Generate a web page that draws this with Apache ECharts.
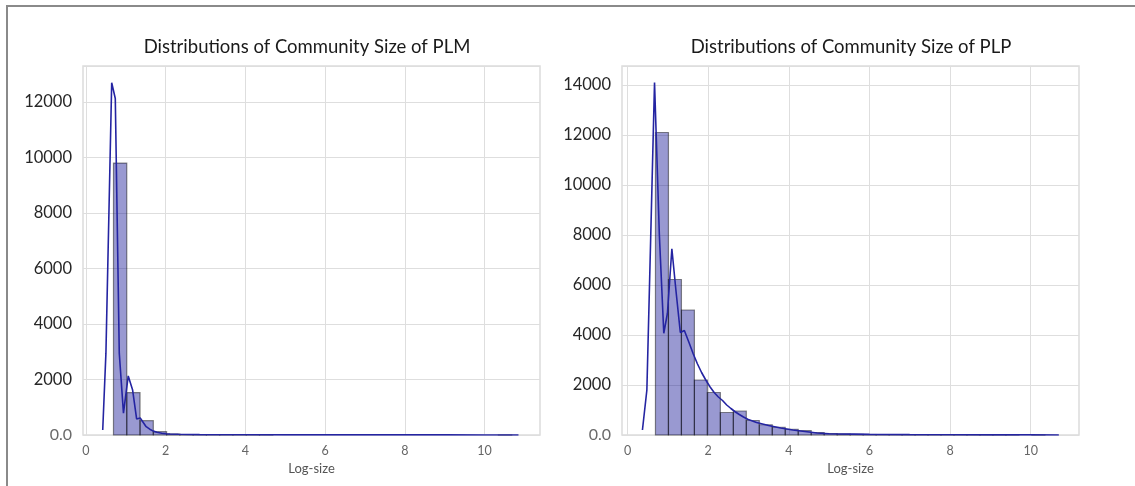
<!DOCTYPE html>
<html><head><meta charset="utf-8">
<script src="https://cdn.jsdelivr.net/npm/echarts@6/dist/echarts.min.js"></script>
<style>html,body{margin:0;padding:0;background:#fff}#c{width:1135px;height:486px}</style>
</head><body><div id="c"></div>
<script>
// ---- data ----
const xTickValues = [0, 2, 4, 6, 8, 10];
const titles = ['Distributions of Community Size of PLM', 'Distributions of Community Size of PLP'];
const xAxisName = 'Log-size';

const plmBinStart = 0.69;
const plmBinWidth = 0.333;
const plmCounts = [9800, 1530, 515, 120, 35, 12, 6, 3, 2, 1, 1, 1, 0, 0, 0, 0, 0, 0, 0, 0, 0, 0, 0, 0, 0, 0, 0, 0, 0, 1];
const plmKdeX = [0.42, 0.5, 0.645, 0.735, 0.835, 0.94, 1.06, 1.17, 1.27, 1.36, 1.51, 1.6, 1.69, 1.78, 1.9, 2.0, 2.11, 2.32, 2.53, 2.85, 3.3, 4, 5, 6, 7, 8, 9, 10, 10.85];
const plmKdeY = [180, 2950, 12700, 12130, 2950, 790, 2130, 1620, 580, 610, 300, 210, 140, 100, 65, 45, 35, 25, 18, 13, 10, 7, 6, 6, 5, 4, 3, 2, 1];

const plpBinStart = 0.693;
const plpBinWidth = 0.322;
const plpCounts = [12100, 6220, 5000, 2200, 1700, 900, 960, 580, 410, 310, 230, 175, 100, 60, 40, 25, 18, 12, 8, 6, 4, 3, 2, 2, 1, 1, 1, 1, 0, 1];
const plpKdeX = [0.37, 0.48, 0.575, 0.67, 0.79, 0.9, 0.99, 1.1, 1.2, 1.31, 1.41, 1.525, 1.629, 1.733, 1.837, 1.941, 2.045, 2.149, 2.253, 2.357, 2.461, 2.565, 2.669, 2.773, 2.877, 2.981, 3.2, 3.5, 3.8, 4.1, 4.4, 4.7, 5.0, 5.3, 5.6, 6, 7, 8, 9, 10, 10.7];
const plpKdeY = [200, 1800, 7900, 14100, 8000, 4070, 4870, 7450, 5800, 4100, 4180, 3700, 3250, 2850, 2500, 2200, 1930, 1700, 1520, 1380, 1200, 1060, 930, 820, 720, 630, 500, 380, 280, 200, 140, 80, 50, 40, 35, 25, 15, 10, 7, 5, 3];

// ---- chart ----
const FONT = 'Lato';
const chart = echarts.init(document.getElementById('c'));

function histSeries(start, width, counts, idx) {
  const data = counts.map((c, i) => [start + i * width, start + (i + 1) * width, c]);
  return {
    type: 'custom', xAxisIndex: idx, yAxisIndex: idx, data: data, z: 2,
    encode: { x: [0, 1], y: 2 },
    renderItem: function (params, api) {
      const c = api.value(2);
      if (!c) return null;
      const p0 = api.coord([api.value(0), c]);
      const p1 = api.coord([api.value(1), 0]);
      return {
        type: 'rect',
        shape: { x: p0[0], y: p0[1], width: p1[0] - p0[0], height: p1[1] - p0[1] },
        style: { fill: 'rgba(0,0,139,0.4)', stroke: 'rgba(0,0,0,0.45)', lineWidth: 1.2 }
      };
    }
  };
}
function kdeSeries(xs, ys, idx) {
  return {
    type: 'line', xAxisIndex: idx, yAxisIndex: idx, z: 3,
    data: xs.map((x, i) => [x, ys[i]]),
    showSymbol: false, symbol: 'none', smooth: false,
    lineStyle: { color: '#2424a2', width: 1.6 }
  };
}
function xAx(gi, min, max) {
  return {
    type: 'value', gridIndex: gi, min: min, max: max,
    name: xAxisName, nameLocation: 'middle', nameGap: 27,
    nameTextStyle: { fontFamily: FONT, fontSize: 13, color: '#555' },
    axisLine: { show: false },
    axisTick: { show: false, customValues: xTickValues },
    axisLabel: { customValues: xTickValues, fontFamily: FONT, fontSize: 12.5, color: '#666', margin: 9 },
    splitLine: { show: true, lineStyle: { color: '#dedede', width: 1 } }
  };
}
function yAx(gi, max) {
  return {
    type: 'value', gridIndex: gi, min: 0, max: max, interval: 2000,
    axisLine: { show: false }, axisTick: { show: false },
    axisLabel: {
      fontFamily: FONT, fontSize: 16.5, color: '#262626', margin: 11, showMaxLabel: false,
      formatter: v => v === 0 ? '{z|0.0}' : String(v),
      rich: { z: { fontFamily: FONT, fontSize: 16, color: '#6a6a6a' } }
    },
    splitLine: { show: true, lineStyle: { color: '#dedede', width: 1 } }
  };
}

chart.setOption({
  backgroundColor: '#fff',
  animation: false,
  title: [
    { text: titles[0], left: 302, top: 33, textAlign: 'center', textStyle: { fontFamily: FONT, fontSize: 18.5, fontWeight: 'normal', color: '#1a1a1a' } },
    { text: titles[1], left: 846, top: 33, textAlign: 'center', textStyle: { fontFamily: FONT, fontSize: 18.5, fontWeight: 'normal', color: '#1a1a1a' } }
  ],
  grid: [
    { left: 83, top: 66, width: 457, height: 369, show: true, borderColor: '#dcdcdc', borderWidth: 1.5, backgroundColor: 'transparent' },
    { left: 622, top: 66, width: 457, height: 369, show: true, borderColor: '#dcdcdc', borderWidth: 1.5, backgroundColor: 'transparent' }
  ],
  xAxis: [xAx(0, -0.075, 11.39), xAx(1, -0.137, 11.2)],
  yAxis: [yAx(0, 13300), yAx(1, 14760)],
  series: [
    histSeries(plmBinStart, plmBinWidth, plmCounts, 0),
    kdeSeries(plmKdeX, plmKdeY, 0),
    histSeries(plpBinStart, plpBinWidth, plpCounts, 1),
    kdeSeries(plpKdeX, plpKdeY, 1)
  ],
  graphic: [
    { type: 'line', shape: { x1: 6, y1: 6, x2: 1135, y2: 6 }, style: { stroke: '#8a8a8a', lineWidth: 2 } },
    { type: 'line', shape: { x1: 7, y1: 5, x2: 7, y2: 486 }, style: { stroke: '#8a8a8a', lineWidth: 2 } }
  ]
});
</script></body></html>
